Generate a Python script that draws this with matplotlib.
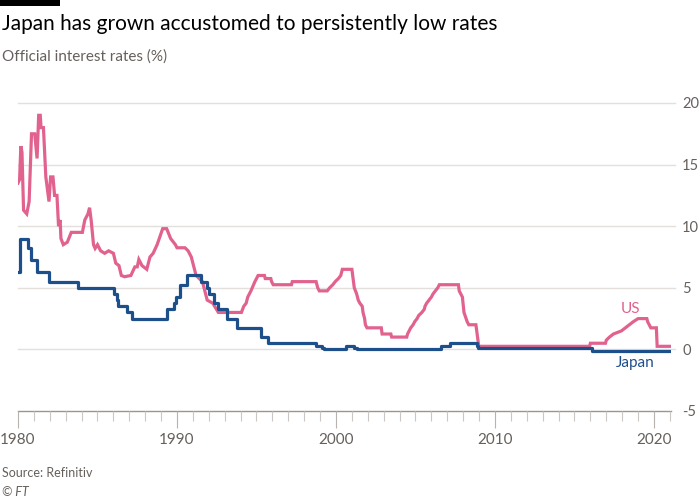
import matplotlib
matplotlib.use('Agg')
import matplotlib.pyplot as plt
from matplotlib.patches import Rectangle

plt.rcParams['font.family'] = ['Lato', 'DejaVu Sans']

# US official rate (fed funds target)
us_years = [1980.0, 1980.1, 1980.18, 1980.25, 1980.35, 1980.55, 1980.7, 1980.85, 1981.05, 1981.2,
            1981.3, 1981.4, 1981.45, 1981.6, 1981.75, 1981.95, 1982.05, 1982.2, 1982.3, 1982.45,
            1982.55, 1982.65, 1982.7, 1982.85, 1983.1, 1983.35, 1984.05, 1984.2, 1984.4, 1984.5,
            1984.6, 1984.75, 1984.85, 1985.0, 1985.2, 1985.45, 1985.7, 1986.0, 1986.15, 1986.35,
            1986.5, 1986.7, 1987.1, 1987.35, 1987.5, 1987.6, 1987.8, 1988.1, 1988.3, 1988.5,
            1988.75, 1989.1, 1989.35, 1989.6, 1989.9, 1990.0, 1990.5, 1990.7, 1990.9, 1991.0,
            1991.2, 1991.4, 1991.6, 1991.75, 1991.9, 1992.25, 1992.6, 1994.05, 1994.2, 1994.35,
            1994.45, 1994.65, 1994.9, 1995.1, 1995.5, 1995.55, 1995.9, 1995.95, 1996.05, 1997.2,
            1997.25, 1998.75, 1998.85, 1998.95, 1999.45, 1999.6, 1999.8, 1999.95, 2000.15, 2000.3,
            2000.4, 2001.0, 2001.05, 2001.15, 2001.3, 2001.4, 2001.5, 2001.65, 2001.7, 2001.8,
            2001.85, 2001.95, 2002.85, 2002.9, 2003.45, 2003.5, 2004.45, 2004.5, 2004.6, 2004.7,
            2004.85, 2004.95, 2005.1, 2005.2, 2005.4, 2005.55, 2005.6, 2005.7, 2005.85, 2006.0,
            2006.1, 2006.25, 2006.4, 2006.5, 2007.7, 2007.75, 2007.85, 2007.95, 2008.05, 2008.25,
            2008.35, 2008.8, 2008.85, 2008.9, 2008.98, 2015.95, 2016.0, 2016.95, 2017.0, 2017.2,
            2017.45, 2017.95, 2018.2, 2018.45, 2018.7, 2019.0, 2019.55, 2019.6, 2019.7, 2019.8,
            2020.15, 2020.2, 2021.07]
us_rates = [13.5, 13.8, 16.5, 16.0, 11.3, 11.0, 12.0, 17.5, 17.5, 15.5,
            19.0, 19.0, 18.0, 18.0, 14.0, 12.0, 14.0, 14.0, 12.5, 12.5,
            10.0, 10.5, 9.0, 8.5, 8.7, 9.5, 9.5, 10.5, 11.0, 11.5,
            10.5, 8.5, 8.2, 8.5, 8.0, 7.8, 8.0, 7.8, 7.0, 6.8,
            6.0, 5.9, 6.0, 6.7, 6.7, 7.3, 6.8, 6.5, 7.5, 7.8,
            8.5, 9.8, 9.8, 9.0, 8.5, 8.25, 8.25, 8.0, 7.5, 7.0,
            6.0, 5.75, 5.5, 4.75, 4.0, 3.75, 3.0, 3.0, 3.5, 3.75,
            4.25, 4.75, 5.5, 6.0, 6.0, 5.75, 5.75, 5.5, 5.25, 5.25,
            5.5, 5.5, 5.0, 4.75, 4.75, 5.0, 5.25, 5.5, 5.75, 6.0,
            6.5, 6.5, 6.0, 5.0, 4.5, 4.0, 3.75, 3.5, 3.0, 2.5,
            2.0, 1.75, 1.75, 1.25, 1.25, 1.0, 1.0, 1.25, 1.5, 1.75,
            2.0, 2.25, 2.5, 2.75, 3.0, 3.25, 3.5, 3.75, 4.0, 4.25,
            4.5, 4.75, 5.0, 5.25, 5.25, 4.75, 4.5, 4.25, 3.0, 2.25,
            2.0, 2.0, 1.5, 1.0, 0.25, 0.25, 0.5, 0.5, 0.75, 1.0,
            1.25, 1.5, 1.75, 2.0, 2.25, 2.5, 2.5, 2.25, 2.0, 1.75,
            1.75, 0.25, 0.25]

# Japan official rate, change points (step after)
jp_years = [1980.0, 1980.15, 1980.6, 1980.8, 1981.2, 1981.95, 1983.8, 1986.05, 1986.2, 1986.3,
            1986.85, 1987.15, 1989.4, 1989.8, 1989.95, 1990.2, 1990.6, 1991.5, 1991.9, 1992.0,
            1992.3, 1992.55, 1993.15, 1993.75, 1995.3, 1995.7, 1998.75, 1999.15, 1999.25, 2000.65,
            2001.15, 2001.3, 2006.6, 2007.15, 2008.85, 2008.95, 2016.1, 2021.07]
jp_rates = [6.25, 9.0, 8.25, 7.25, 6.25, 5.5, 5.0, 4.5, 4.0, 3.5,
            3.0, 2.5, 3.25, 3.75, 4.25, 5.25, 6.0, 5.5, 5.0, 4.5,
            3.75, 3.25, 2.5, 1.75, 1.0, 0.5, 0.25, 0.1, 0.0, 0.25,
            0.1, 0.0, 0.25, 0.5, 0.3, 0.1, -0.1, -0.1]

y_ticks = [-5, 0, 5, 10, 15, 20]
x_ticks = [1980, 1990, 2000, 2010, 2020]

us_color = '#e2628f'
jp_color = '#1d4f8b'
text_grey = '#66605c'

fig = plt.figure(figsize=(7, 5), dpi=100)
fig.patch.set_facecolor('white')
ax = fig.add_axes([18 / 700, 1 - 411 / 500, (671 - 18) / 700, (411 - 103) / 500])

for t in y_ticks:
    if t == -5:
        ax.axhline(t, color='#9a9590', lw=1.0, zorder=1, clip_on=False)
    else:
        ax.axhline(t, color='#e3dfdc', lw=1.0, zorder=1, xmax=1.006, clip_on=False)

ax.plot(us_years, us_rates, color=us_color, lw=2.3, zorder=3, solid_joinstyle='miter')
ax.plot(jp_years, jp_rates, color=jp_color, lw=2.3, zorder=4, drawstyle='steps-post')

ax.set_xlim(1980, 2021.07)
ax.set_ylim(-5, 20)
for s in ax.spines.values():
    s.set_visible(False)

ax.yaxis.tick_right()
ax.set_yticks(y_ticks)
ax.set_yticklabels([str(t) for t in y_ticks])
ax.tick_params(axis='y', length=0, pad=8, labelsize=10.5, labelcolor=text_grey)

ax.set_xticks(x_ticks)
ax.set_xticklabels([str(t) for t in x_ticks])
ax.set_xticks(list(range(1980, 2022)), minor=True)
ax.tick_params(axis='x', which='major', length=12, width=0.8, color='#b8b3ae',
               pad=4, labelsize=11, labelcolor=text_grey)
ax.tick_params(axis='x', which='minor', length=7, width=0.8, color='#ccc7c2')

ax.text(2018.5, 3.3, 'US', color=us_color, fontsize=11, ha='center', va='center')
ax.text(2018.8, -1.1, 'Japan', color=jp_color, fontsize=11, ha='center', va='center')

fig.add_artist(Rectangle((0, 1 - 6 / 500), 60 / 700, 6 / 500, transform=fig.transFigure,
                         color='black', lw=0))
fig.text(2 / 700, 1 - 24 / 500, 'Japan has grown accustomed to persistently low rates',
         fontsize=15, color='black', va='center', ha='left')
fig.text(2 / 700, 1 - 57 / 500, 'Official interest rates (%)',
         fontsize=11, color=text_grey, va='center', ha='left')
fig.text(2 / 700, 1 - 473 / 500, 'Source: Refinitiv',
         fontsize=9, color=text_grey, va='center', ha='left')
fig.text(2 / 700, 1 - 492 / 500, '© FT',
         fontsize=9, color=text_grey, va='center', ha='left', style='italic')

fig.savefig('out.png', dpi=100, facecolor='white')
